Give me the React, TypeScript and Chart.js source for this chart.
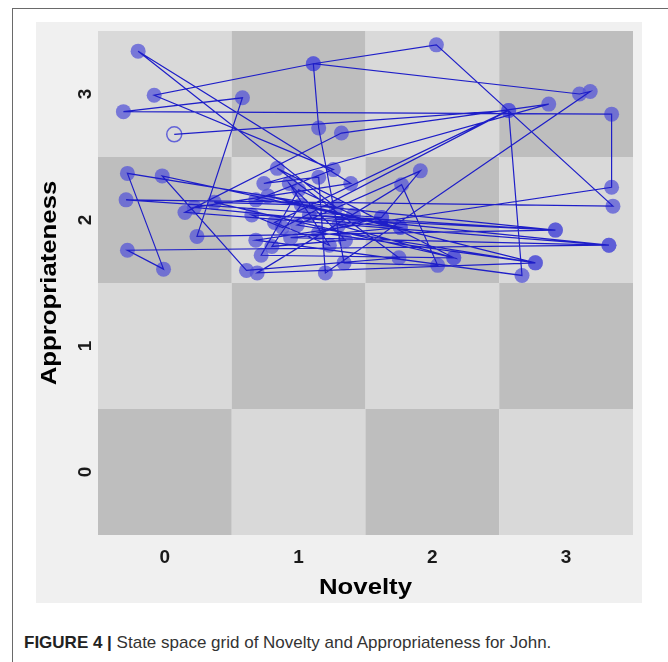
import React, { useEffect, useRef } from 'react';
import { Chart, registerables } from 'chart.js';

Chart.register(...registerables);

// Novelty (x) and Appropriateness (y) visited in order, with jitter inside each cell
const noveltyValues = [
  0.07, 2.57, 2.67, 0.68, 3.34, 3.34, -0.31, 0.58, 0.24, 2.92,
  0.68, 1.26, -0.08, 1.11, 2.03, 3.35, -0.29, 1.62, 1.91, 0.99,
  2.77, 0.69, 1.77, 2.04, 1.34, 1.15, 1.11, 3.10, 3.18, 1.20,
  1.15, 0.74, 2.87, 1.32, 0.15, 3.32, -0.28, -0.01, -0.28, 1.28,
  -0.20, 1.39, 0.22, 1.76, -0.02, 0.61, 1.75, 0.84, 2.16, 0.37,
  1.02, 0.80, 1.35, 0.93, 1.23, 0.82, 2.57, 0.88, 0.65, 2.92,
  1.08, 3.32, 0.94, 1.76, 0.77, 2.77, 1.15, 1.62, 1.30, 2.16,
  0.72, 1.00, 1.41,
];
const appropValues = [
  2.68, 2.87, 1.56, 1.84, 2.26, 2.84, 2.86, 2.97, 1.87, 1.92,
  2.16, 2.40, 2.99, 3.24, 3.39, 2.11, 2.16, 2.02, 2.39, 1.96,
  1.66, 1.58, 2.28, 1.64, 1.66, 2.73, 3.24, 3.00, 3.02, 1.58,
  2.34, 2.29, 2.92, 2.69, 2.06, 1.80, 1.76, 1.61, 2.37, 2.10,
  3.34, 2.29, 2.10, 1.94, 2.35, 1.60, 1.70, 2.41, 1.70, 2.14,
  2.12, 1.79, 1.84, 2.29, 1.80, 1.98, 2.87, 1.94, 2.04, 1.92,
  2.04, 1.80, 1.86, 1.94, 2.19, 1.66, 1.90, 2.02, 1.96, 1.70,
  1.72, 2.24, 2.04,
];
const noveltyTicks = [0, 1, 2, 3];
const appropTicks = [0, 1, 2, 3];
const xTitle = 'Novelty';
const yTitle = 'Appropriateness';

const FONT = '"Liberation Sans", Arial, Helvetica, sans-serif';
const LIGHT = '#d9d9d9';
const DARK = '#bebebe';

const gridPlugin = {
  id: 'ssgGrid',
  beforeDatasetsDraw(chart: any) {
    const { ctx, scales } = chart;
    const xs = scales.x;
    const ys = scales.y;
    ctx.save();
    for (let i = 0; i < noveltyTicks.length; i++) {
      for (let j = 0; j < appropTicks.length; j++) {
        const v = noveltyTicks[i];
        const w = appropTicks[j];
        const x0 = xs.getPixelForValue(v - 0.5);
        const x1 = xs.getPixelForValue(v + 0.5);
        const y0 = ys.getPixelForValue(w + 0.5);
        const y1 = ys.getPixelForValue(w - 0.5);
        ctx.fillStyle = (i + j) % 2 === 0 ? DARK : LIGHT;
        ctx.fillRect(x0, y0, x1 - x0, y1 - y0);
      }
    }
    ctx.restore();
  },
  afterDraw(chart: any) {
    const { ctx, scales, chartArea } = chart;
    const xs = scales.x;
    const ys = scales.y;
    ctx.save();
    ctx.fillStyle = '#1a1a1a';
    ctx.font = `bold 19px ${FONT}`;
    ctx.textAlign = 'center';
    ctx.textBaseline = 'alphabetic';
    noveltyTicks.forEach((t) => {
      ctx.fillText(String(t), xs.getPixelForValue(t), chartArea.bottom + 28);
    });
    appropTicks.forEach((t) => {
      ctx.save();
      ctx.translate(55, ys.getPixelForValue(t));
      ctx.rotate(-Math.PI / 2);
      ctx.fillText(String(t), 0, 0);
      ctx.restore();
    });
    ctx.fillStyle = '#000';
    ctx.font = `bold 22px ${FONT}`;
    ctx.save();
    ctx.translate((chartArea.left + chartArea.right) / 2, chartArea.bottom + 59);
    ctx.scale(1.17, 1);
    ctx.fillText(xTitle, 0, 0);
    ctx.restore();
    ctx.save();
    ctx.translate(20, (chartArea.top + chartArea.bottom) / 2);
    ctx.rotate(-Math.PI / 2);
    ctx.scale(1.17, 1);
    ctx.fillText(yTitle, 0, 0);
    ctx.restore();
    ctx.restore();
  },
};

function SSGChart() {
  const ref = useRef<HTMLCanvasElement | null>(null);
  useEffect(() => {
    if (!ref.current) return;
    const pts = noveltyValues.map((x, i) => ({ x, y: appropValues[i] }));
    const fill = pts.map((_, i) => (i === 0 ? 'rgba(0,0,0,0)' : 'rgba(85,85,215,0.75)'));
    const border = pts.map((_, i) => (i === 0 ? 'rgba(85,85,215,0.9)' : 'rgba(0,0,0,0)'));
    const chart = new Chart(ref.current, {
      type: 'scatter',
      data: {
        datasets: [
          {
            label: 'path',
            data: pts,
            showLine: true,
            borderColor: 'rgb(30,30,200)',
            borderWidth: 1.2,
            pointRadius: 0,
            fill: false,
            tension: 0,
            order: 1,
          } as any,
          {
            label: 'states',
            data: pts,
            showLine: false,
            pointRadius: 7.5,
            pointBackgroundColor: fill,
            pointBorderColor: border,
            pointBorderWidth: 1.5,
            order: 2,
          } as any,
        ],
      },
      options: {
        animation: false,
        responsive: false,
        devicePixelRatio: 1,
        layout: { padding: { left: 62, right: 6, top: 9, bottom: 68 } },
        plugins: { legend: { display: false }, tooltip: { enabled: false } },
        scales: {
          x: { type: 'linear', min: -0.5, max: 3.5, display: false },
          y: { type: 'linear', min: -0.5, max: 3.5, display: false },
        },
      },
      plugins: [gridPlugin],
    });
    return () => chart.destroy();
  }, []);
  return (
    <canvas
      ref={ref}
      width={606}
      height={581}
      style={{ position: 'absolute', left: 36, top: 22, width: 606, height: 581, background: '#f0f0f0' }}
    />
  );
}

export default function App() {
  return (
    <div style={{ position: 'fixed', left: 0, top: 0, width: 668, height: 662, background: '#fff', overflow: 'hidden' }}>
      <div
        style={{
          position: 'absolute',
          left: 12,
          top: 8,
          width: 660,
          height: 680,
          border: '1px solid #6a6a6a',
          boxSizing: 'border-box',
        }}
      />
      <SSGChart />
      <div
        style={{
          position: 'absolute',
          left: 24,
          top: 634,
          lineHeight: '17px',
          fontSize: 17,
          fontFamily: FONT,
          color: '#333',
          whiteSpace: 'nowrap',
        }}
      >
        <span style={{ fontWeight: 'bold', color: '#222' }}>FIGURE 4 |</span> State space grid of Novelty and Appropriateness for John.
      </div>
    </div>
  );
}
